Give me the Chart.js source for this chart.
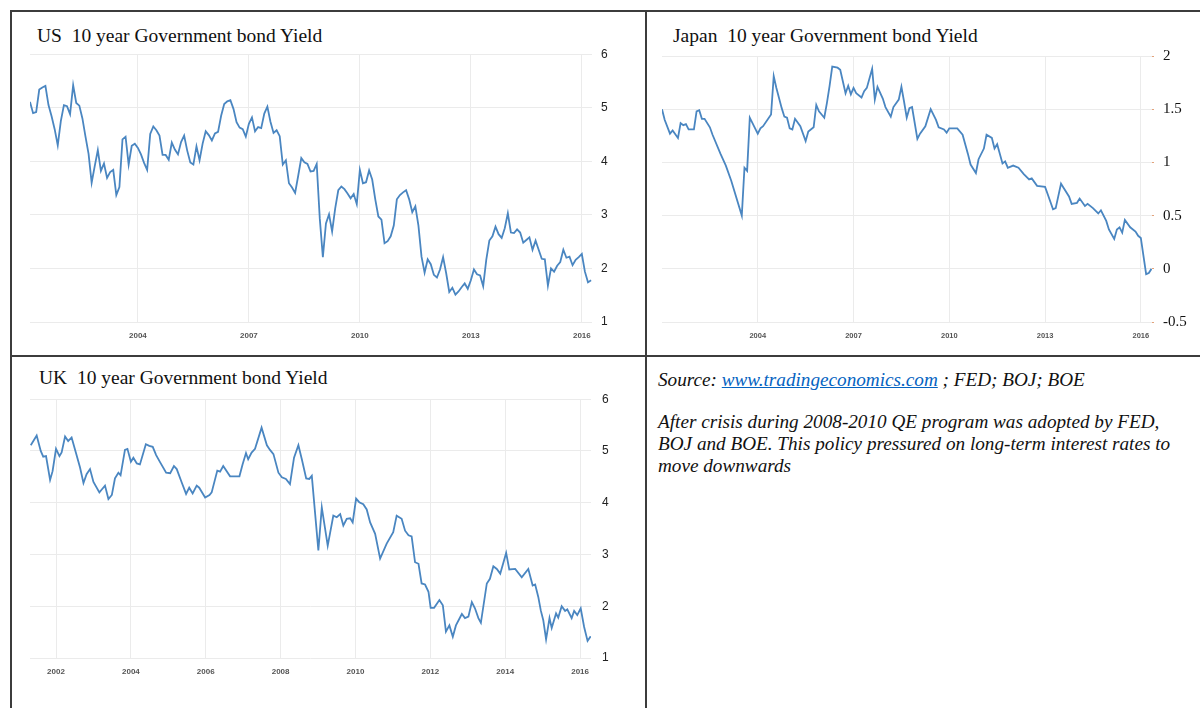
<!DOCTYPE html>
<html><head><meta charset="utf-8">
<script src="https://cdn.jsdelivr.net/npm/chart.js@4.4.1/dist/chart.umd.min.js"></script>
<style>
html,body{margin:0;padding:0;background:#fff;width:1200px;height:708px;overflow:hidden;}
body{position:relative;}
.b{position:absolute;background:#3c3c3c;}
.title{position:absolute;font-family:"Liberation Serif","Times New Roman",serif;font-size:19.5px;color:#111;white-space:pre;line-height:1;}
canvas{position:absolute;}
.note{position:absolute;left:658px;font-family:"Liberation Serif","Times New Roman",serif;font-style:italic;font-size:19.2px;line-height:1;color:#111;white-space:pre;}
.note a{color:#0563c1;text-decoration:underline;}
</style></head><body>
<div class="b" style="left:10px;top:10px;width:1190px;height:2px"></div>
<div class="b" style="left:10px;top:10px;width:2px;height:698px"></div>
<div class="b" style="left:645px;top:10px;width:2px;height:698px"></div>
<div class="b" style="left:10px;top:355px;width:1190px;height:2px"></div>

<div class="title" style="left:37px;top:26px">US  10 year Government bond Yield</div>
<div class="title" style="left:673px;top:26px">Japan  10 year Government bond Yield</div>
<div class="title" style="left:39px;top:368px">UK  10 year Government bond Yield</div>

<canvas id="us" width="620" height="312" style="left:20px;top:38px"></canvas>
<canvas id="jp" width="540" height="312" style="left:652px;top:38px"></canvas>
<canvas id="uk" width="620" height="305" style="left:20px;top:381px"></canvas>

<div class="note" style="top:370px">Source: <a>www.tradingeconomics.com</a> ; FED; BOJ; BOE</div>
<div class="note" style="top:412px">After crisis during 2008-2010 QE program was adopted by FED,</div>
<div class="note" style="top:434px">BOJ and BOE. This policy pressured on long-term interest rates to</div>
<div class="note" style="top:456px">move downwards</div>

<script>
// ---- DATA ----
// US 10y yield, month-end, Jan 2001 .. Mar 2016
const usYields = [
 5.11,4.90,4.92,5.34,5.38,5.41,5.05,4.84,4.60,4.30,4.75,5.05,
 5.03,4.88,5.42,5.09,5.04,4.80,4.46,4.14,3.60,3.91,4.21,3.82,
 3.96,3.69,3.80,3.84,3.37,3.52,4.41,4.46,3.94,4.29,4.33,4.25,
 4.13,3.97,3.84,4.51,4.65,4.58,4.48,4.12,4.12,4.03,4.35,4.22,
 4.13,4.36,4.48,4.20,3.98,3.94,4.28,4.02,4.33,4.56,4.49,4.39,
 4.52,4.55,4.85,5.07,5.12,5.14,4.98,4.73,4.63,4.60,4.46,4.70,
 4.82,4.56,4.64,4.62,4.89,5.02,4.74,4.53,4.58,4.47,3.94,4.02,
 3.59,3.51,3.41,3.73,4.06,3.98,3.95,3.81,3.82,3.95,2.93,2.21,
 2.84,3.01,2.69,3.12,3.46,3.53,3.48,3.40,3.31,3.39,3.20,3.84,
 3.59,3.61,3.83,3.66,3.29,2.97,2.91,2.47,2.51,2.60,2.80,3.29,
 3.37,3.42,3.46,3.29,3.05,3.16,2.80,2.22,1.92,2.17,2.08,1.88,
 1.83,1.98,2.21,1.91,1.56,1.64,1.51,1.57,1.65,1.72,1.62,1.78,
 1.98,1.89,1.87,1.67,2.16,2.52,2.60,2.78,2.64,2.57,2.75,3.03,
 2.67,2.66,2.73,2.67,2.48,2.53,2.58,2.35,2.52,2.35,2.18,2.17,
 1.68,2.00,1.94,2.05,2.12,2.35,2.20,2.22,2.06,2.16,2.21,2.27,
 1.94,1.74,1.78
];
// Japan: months since Jan 2001 and yields
const jpMonths = [0,1,3,4,6,7,8,9,10,12,13,14,15,16,18,19,22,24,26,30,31,32,33,35,36,37,38,41,42,43,45,46,47,48,49,50,52,54,55,57,58,59,60,61,62,63,64,66,67,68,69,70,71,72,73,75,76,77,79,80,81,83,84,86,87,89,90,91,92,93,94,96,97,99,101,103,104,106,107,108,111,113,115,116,118,119,121,122,124,125,126,128,129,130,132,134,136,138,139,141,144,145,147,148,150,151,153,154,156,157,159,160,162,164,165,167,168,170,171,172,173,174,176,178,179,180,182,183,184];
const jpYields = [1.50,1.40,1.27,1.30,1.23,1.37,1.35,1.36,1.31,1.31,1.48,1.49,1.41,1.41,1.33,1.26,1.08,0.97,0.83,0.50,0.95,0.92,1.42,1.32,1.27,1.32,1.34,1.45,1.81,1.70,1.51,1.43,1.42,1.32,1.31,1.41,1.34,1.20,1.29,1.33,1.54,1.48,1.45,1.42,1.56,1.72,1.90,1.89,1.87,1.76,1.65,1.72,1.64,1.70,1.65,1.61,1.67,1.70,1.88,1.59,1.71,1.60,1.52,1.43,1.52,1.59,1.71,1.57,1.42,1.51,1.52,1.22,1.27,1.34,1.50,1.40,1.33,1.31,1.28,1.32,1.32,1.26,1.08,0.98,0.90,1.03,1.13,1.26,1.23,1.13,1.17,0.99,1.01,0.95,0.97,0.95,0.89,0.84,0.85,0.78,0.77,0.70,0.56,0.57,0.80,0.76,0.68,0.61,0.62,0.66,0.59,0.61,0.57,0.52,0.55,0.45,0.37,0.28,0.37,0.39,0.34,0.46,0.39,0.35,0.31,0.29,-0.05,-0.04,0.00];
// UK: months since Jan 2001 and yields
const ukMonths = [3.9,5.8,7.1,7.9,8.8,10.1,10.9,12.0,13.1,13.8,14.9,15.9,17.0,18.4,19.7,20.8,21.8,22.9,24.0,25.9,26.6,27.7,28.8,29.9,30.9,32.0,32.7,34.1,34.9,36.0,36.8,37.9,38.9,40.8,41.9,43.0,44.1,45.3,47.3,48.6,49.8,50.7,52.3,53.7,54.7,55.8,57.1,57.9,59.8,61.2,61.9,63.7,64.6,65.6,67.8,68.8,70.8,71.8,72.9,73.6,74.7,75.8,77.9,79.6,80.6,81.7,83.3,84.4,85.7,87.0,88.3,89.7,90.8,92.2,93.2,94.0,96.1,97.2,99.1,100.9,102.0,103.1,104.1,105.2,106.3,107.1,108.2,109.2,110.5,111.6,112.7,114.3,115.9,118.0,120.1,121.2,122.8,123.9,125.0,126.0,127.1,128.2,129.2,130.3,131.4,132.1,133.2,134.9,136.0,137.0,138.1,139.2,140.2,142.1,143.1,144.2,145.3,146.3,147.4,148.2,150.1,151.1,152.2,153.3,154.4,156.3,157.3,159.2,161.3,163.4,164.8,165.6,166.6,167.4,168.2,169.1,170.2,170.9,172.3,173.0,174.1,175.2,175.9,177.3,178.1,179.1,180.2,181.3,182.4,183.4];
const ukYields = [5.11,5.30,5.00,4.89,4.90,4.44,4.61,5.04,4.90,4.97,5.28,5.19,5.26,4.96,4.68,4.38,4.55,4.65,4.40,4.20,4.25,4.33,4.07,4.15,4.47,4.58,4.53,5.02,5.04,4.79,4.87,4.76,4.74,5.13,5.10,5.08,4.92,4.79,4.58,4.57,4.71,4.65,4.39,4.17,4.29,4.18,4.33,4.29,4.10,4.15,4.20,4.62,4.60,4.71,4.51,4.51,4.51,4.74,4.96,4.84,4.97,5.04,5.45,5.11,5.02,4.94,4.58,4.49,4.46,4.36,4.87,5.11,4.84,4.47,4.46,4.52,3.08,3.91,3.17,3.75,3.72,3.78,3.56,3.69,3.70,3.62,4.08,4.01,3.97,3.87,3.62,3.40,2.92,3.21,3.43,3.75,3.69,3.46,3.37,3.35,2.85,2.82,2.44,2.42,2.28,1.97,1.97,2.12,2.02,1.51,1.63,1.41,1.63,1.85,1.77,1.80,2.08,1.96,1.77,1.68,2.44,2.53,2.77,2.72,2.63,3.03,2.71,2.72,2.56,2.72,2.40,2.42,2.18,1.92,1.73,1.36,1.77,1.58,1.86,1.78,2.00,1.91,1.94,1.77,1.91,1.83,1.96,1.60,1.33,1.42];
const usTickYears = [2004, 2007, 2010, 2013, 2016];
const jpTickYears = [2004, 2007, 2010, 2013, 2016];
const ukTickYears = [2002, 2004, 2006, 2008, 2010, 2012, 2014, 2016];
const usMonths = usYields.map((_, i) => i + 1); // month-end of Jan 2001 = 1

// ---- CHARTS ----
const LINE = '#4a86c1';
const GRID = '#ebebeb';
function makeChart(id, xs, ys, c) {
  const pts = xs.map((x, i) => ({x: x, y: ys[i]}));
  return new Chart(document.getElementById(id), {
    type: 'line',
    data: {datasets: [{data: pts, borderColor: LINE, borderWidth: 1.8, pointRadius: 0, tension: 0, fill: false}]},
    options: {
      responsive: false, animation: false, devicePixelRatio: 1,
      layout: {padding: {left: c.padL, top: c.padT, right: 0, bottom: 0}},
      plugins: {legend: {display: false}, tooltip: {enabled: false}},
      scales: {
        x: {
          type: 'linear', min: c.xMin, max: c.xMax,
          afterBuildTicks: s => { s.ticks = c.tickYears.map(y => ({value: (y - 2001) * 12})); },
          afterFit: s => { s.height = c.xH; },
          grid: {color: GRID, drawTicks: false, lineWidth: 1},
          border: {display: false},
          ticks: {padding: c.xPad, autoSkip: false, maxRotation: 0, color: '#555',
                  font: {family: 'Liberation Sans', size: c.xFont, weight: 'bold'},
                  callback: v => String(Math.round(2001 + v / 12))}
        },
        y: {
          position: 'right', min: c.yMin, max: c.yMax,
          afterFit: s => { s.width = c.yW; },
          grid: {color: GRID, drawTicks: c.yTickLen > 0, tickLength: c.yTickLen, tickColor: c.tickColor || GRID, lineWidth: 1},
          border: {display: false},
          ticks: {stepSize: c.yStep, padding: c.yPad, color: c.yColor,
                  font: {family: c.yFamily, size: c.yFont},
                  callback: v => String(Math.round(v * 100) / 100)}
        }
      }
    }
  });
}
makeChart('us', usMonths, usYields, {padL: 10, padT: 3, xMin: 1, xMax: 183.3, xH: 28, yW: 48,
  xPad: 9, xFont: 8, tickYears: usTickYears, yMin: 1, yMax: 6, yStep: 1, yPad: 9, yTickLen: 0,
  yColor: '#222', yFamily: 'Liberation Sans', yFont: 12});
makeChart('jp', jpMonths, jpYields, {padL: 10, padT: 3, xMin: 0, xMax: 184.2, xH: 28, yW: 40,
  xPad: 9, xFont: 7.5, tickYears: jpTickYears, yMin: -0.5, yMax: 2, yStep: 0.5, yPad: 9, yTickLen: 2,
  tickColor: '#e3a27a', yColor: '#111', yFamily: 'Liberation Serif', yFont: 15});
makeChart('uk', ukMonths, ukYields, {padL: 10, padT: 3, xMin: 3.66, xMax: 183.5, xH: 28, yW: 49,
  xPad: 9, xFont: 8, tickYears: ukTickYears, yMin: 1, yMax: 6, yStep: 1, yPad: 11, yTickLen: 0,
  yColor: '#222', yFamily: 'Liberation Sans', yFont: 12});
</script>
</body></html>
